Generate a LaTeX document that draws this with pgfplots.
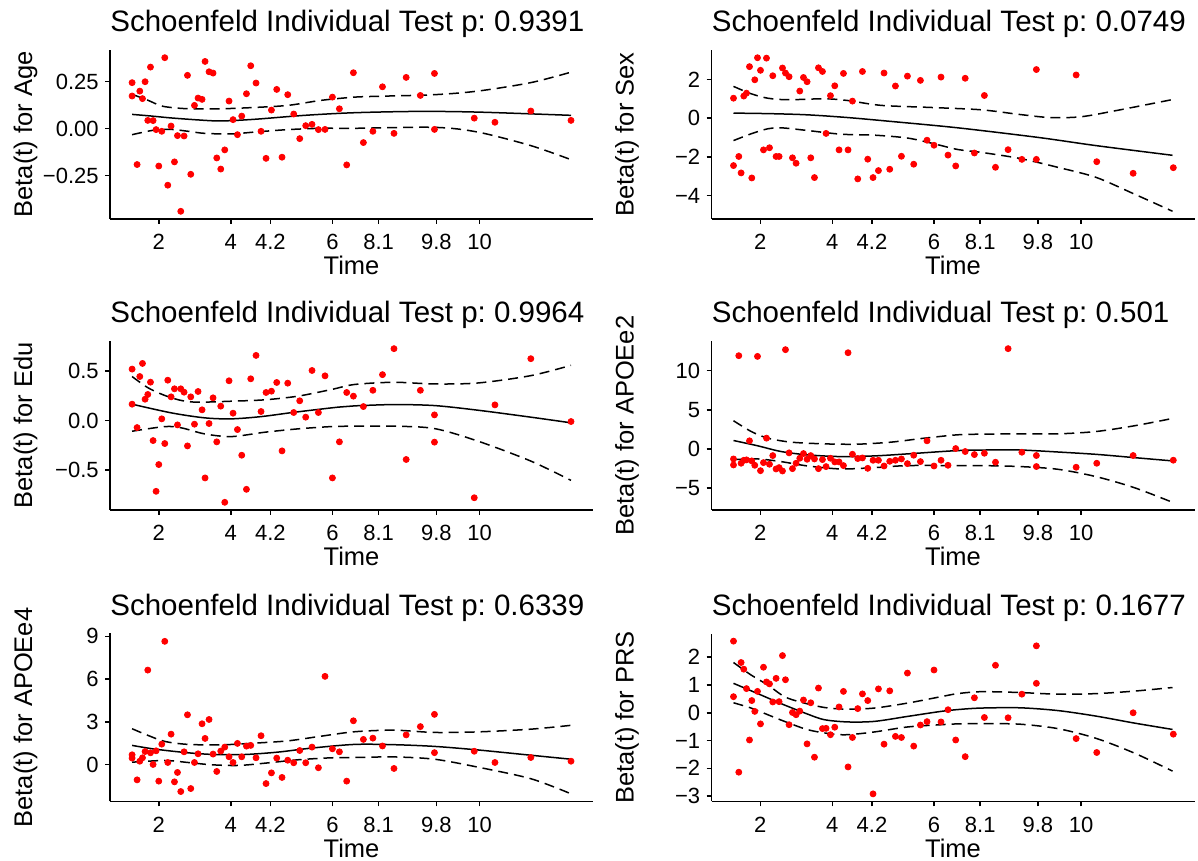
\documentclass[border=0pt]{standalone}
\usepackage{fontspec}
\setmainfont{Liberation Sans}
\usepackage{pgfplots}
\pgfplotsset{compat=1.18}
\pgfplotsset{
  zph/.style={
    scale only axis, width=241.5pt, height=84.5pt, anchor=south west,
    xmin=110.2, xmax=593.4,
    axis lines=left, axis line style={-, line width=0.75pt, black},
    tick style={black, line width=0.75pt}, tick align=outside,
    major tick length=2.5pt,
    xtick={159,231,270.7,332.7,379,436.7,480},
    xticklabels={2,4,4.2,6,8.1,9.8,10},
    xticklabel style={font=\fontsize{11}{13}\selectfont, anchor=base, yshift=-13pt},
    yticklabel style={font=\fontsize{11}{13}\selectfont, anchor=east, inner sep=0pt, xshift=-3pt},
    xlabel={Time},
    every axis x label/.style={at={(axis description cs:0.5,0)}, anchor=base, yshift=-27.8pt, font=\fontsize{12.75}{14}\selectfont},
    every axis y label/.style={at={(axis description cs:0,0.5)}, xshift=-42.25pt, rotate=90, anchor=center, font=\fontsize{12.75}{14}\selectfont},
    every axis title/.style={at={(axis description cs:0,1)}, anchor=base west, inner sep=0pt, yshift=9pt, font=\fontsize{14.75}{17}\selectfont},
  },
  pts/.style={only marks, mark=*, mark size=1.5pt, color=red, mark options={draw=red, fill=red}},
  fit/.style={black, line width=0.75pt, smooth, no marks},
  ci/.style={black, line width=0.75pt, smooth, no marks, dash pattern=on 5pt off 3pt},
}
\begin{document}
\frenchspacing
\begin{tikzpicture}
\path[use as bounding box] (0pt,0pt) rectangle (599pt,430.5pt);

% Panel 1: Age
\begin{axis}[zph, at={(55pt,321pt)}, ymin=-0.481, ymax=0.419,
  ytick={-0.25,0,0.25}, yticklabels={−0.25,0.00,0.25},
  ylabel={Beta(t) for Age}, title={Schoenfeld Individual Test p: 0.9391}]
\addplot[fit] coordinates {(132.3,.076)(150,.068)(171.7,.057)(200,.046)(221.7,.041)(255,.05)(305,.071)(355,.085)(420,.092)(480,.088)(571.4,.071)};
\addplot[pts] coordinates {(132.3,0.245)(132.3,0.174)(137.3,-0.191)(140,0.200)(142.7,0.160)(145.3,0.250)(148,0.044)(150.7,0.328)(153.3,0.043)(156.3,-0.005)(159,-0.199)(162,-0.014)(165,0.378)(168,-0.301)(171.3,0.014)(174.7,-0.177)(177.7,-0.037)(181,-0.440)(184.3,-0.039)(187.7,0.284)(191,-0.243)(194.7,0.124)(198.3,0.163)(202.3,0.156)(205.3,0.358)(209.3,0.303)(213.3,0.296)(217,-0.156)(221,-0.215)(225,-0.113)(229.3,0.147)(233.3,0.048)(237.7,-0.032)(242,0.067)(246.7,0.186)(251,0.335)(256.3,0.243)(261.3,-0.014)(266.3,-0.158)(271.7,0.099)(277,0.209)(282.3,-0.152)(288,0.181)(294,0.078)(300,-0.053)(306,0.016)(312.3,0.023)(318.7,-0.005)(325.3,-0.004)(332.7,0.168)(339.7,0.106)(347,-0.193)(353.7,0.298)(363.7,-0.074)(373.2,-0.014)(382.8,0.223)(394.3,-0.025)(406.5,0.273)(420.7,0.177)(434.8,0.294)(434.8,-0.004)(474.6,0.056)(495.3,0.034)(531.2,0.094)(571.4,0.044)};
\addplot[ci] coordinates {(132.3,.183)(148.3,.151)(163.3,.119)(188.3,.106)(221.7,.106)(255,.113)(288.3,.124)(321.7,.151)(355,.168)(382.8,.173)(434.8,.181)(478,.2)(531,.245)(571.4,.301)};
\addplot[ci] coordinates {(132.3,-.032)(155,-.007)(171.7,-.004)(188.3,-.014)(205,-.025)(231.7,-.028)(255,-.018)(288.3,-.005)(321.7,.002)(355,.002)(434.8,.007)(478,-.018)(531,-.09)(571.4,-.165)};
\end{axis}

% Panel 2: Sex
\begin{axis}[zph, at={(355.75pt,321pt)}, ymin=-5.21, ymax=3.52,
  ytick={-4,-2,0,2}, yticklabels={−4,−2,0,2},
  ylabel={Beta(t) for Sex}, title={Schoenfeld Individual Test p: 0.0749}]
\addplot[fit] coordinates {(132.2,.26)(170,.23)(206.5,.17)(246.5,.03)(289.8,-.17)(356.5,-.5)(437.5,-1.0)(495,-1.42)(571.4,-1.92)};
\addplot[pts] coordinates {(132.2,1.03)(132.2,-2.45)(137.5,-1.98)(139.8,-2.83)(142.5,1.14)(145.2,1.29)(148.2,2.66)(150.5,-3.09)(153.5,1.98)(156.2,3.12)(159.2,2.47)(162.2,-1.64)(165.2,3.10)(168.2,-1.53)(171.5,2.19)(174.8,-1.98)(177.8,-1.98)(181.2,2.59)(184.2,2.33)(187.8,2.14)(191.2,-2.05)(194.8,-2.33)(198.5,1.40)(202.2,2.10)(205.8,1.88)(209.5,-2.05)(213.2,-3.07)(217.2,2.60)(221.2,2.41)(224.8,-0.79)(229.2,1.16)(233.5,1.67)(237.8,-1.64)(242.2,2.31)(246.8,-1.64)(251.2,0.88)(256.5,-3.14)(261.2,2.41)(266.5,-2.12)(271.8,-3.07)(277.2,-2.71)(282.8,2.33)(288.5,-2.64)(294.2,1.66)(300.2,-1.97)(306.2,2.17)(312.5,-2.38)(319.2,1.95)(325.8,-1.14)(332.8,-1.40)(339.8,2.12)(346.8,-1.91)(354.5,-2.47)(364,2.06)(373.2,-1.80)(383.2,1.17)(394.3,-2.54)(406.9,-1.63)(420.7,-2.13)(435.2,2.51)(435.2,-2.13)(475,2.23)(495.6,-2.25)(532,-2.85)(572.2,-2.56)};
\addplot[ci] coordinates {(132.2,1.64)(149.8,1.26)(166.5,1.03)(186.5,.95)(223.2,1.0)(246.5,.91)(279.8,.66)(330.4,.55)(380.1,.43)(418.4,.19)(449,.03)(479.6,.07)(514,.38)(571.4,.96)};
\addplot[ci] coordinates {(132.2,-1.16)(149.8,-.81)(166.5,-.55)(179.8,-.5)(206.5,-.64)(239.8,-.83)(273.2,-.88)(306.5,-1.03)(333.2,-1.33)(356.5,-1.62)(380.1,-1.77)(418.4,-2.08)(456.6,-2.54)(494.9,-3.06)(533.1,-3.92)(571.4,-4.81)};
\end{axis}

% Panel 3: Edu
\begin{axis}[zph, at={(55pt,175.5pt)}, ymin=-0.9025, ymax=0.8025,
  ytick={-0.5,0,0.5}, yticklabels={−0.5,0.0,0.5},
  ylabel={Beta(t) for Edu}, title={Schoenfeld Individual Test p: 0.9964}]
\addplot[fit] coordinates {(132.3,.165)(171.7,.077)(205,.027)(231.7,.017)(261.7,.04)(295,.084)(338.3,.135)(355,.148)(394.3,.161)(434.8,.151)(478.4,.104)(531.2,.034)(571.4,-.023)};
\addplot[pts] coordinates {(132.3,0.519)(132.3,0.165)(137.3,-0.071)(140,0.444)(142.7,0.576)(145.3,0.215)(148,0.263)(150.7,0.387)(153.3,-0.202)(156.3,-0.714)(159,-0.444)(162,0.017)(165,-0.232)(168,0.407)(171.3,0.239)(174.7,0.320)(177.7,-0.044)(181,0.320)(184.3,0.286)(187.7,-0.256)(191,0.239)(194.7,-0.037)(198.3,0.293)(202.3,0.108)(205.3,-0.579)(209.3,-0.030)(213.3,0.229)(217,-0.215)(221,0.145)(225,-0.825)(229.3,0.401)(233.3,0.074)(237.7,-0.091)(242,-0.350)(246.7,-0.694)(251,0.421)(256.3,0.657)(261.3,0.091)(266.3,0.283)(271.7,0.296)(277,0.384)(282.3,-0.306)(288,0.377)(294,0.081)(300,0.199)(306,0.034)(312.3,0.505)(318.7,0.081)(325.3,0.451)(332.7,-0.579)(339.7,-0.215)(347,0.283)(353.7,0.246)(363.7,0.141)(373.2,0.305)(382.8,0.463)(394.3,0.725)(406.5,-0.393)(420.7,0.305)(434.8,0.057)(434.8,-0.218)(474.6,-0.779)(495.3,0.158)(531.2,0.624)(571.4,-0.010)};
\addplot[ci] coordinates {(132.3,.444)(148.3,.33)(165,.253)(181.7,.202)(198.3,.185)(231.7,.195)(265,.209)(298.3,.246)(331.7,.313)(355,.364)(394.3,.386)(434.8,.369)(478.4,.379)(531.2,.453)(571.4,.557)};
\addplot[ci] coordinates {(132.3,-.108)(165,-.061)(181.7,-.074)(205,-.135)(231.7,-.162)(265,-.118)(298.3,-.084)(331.7,-.061)(355,-.057)(394.3,-.057)(434.8,-.081)(478.4,-.208)(531.2,-.409)(571.4,-.604)};
\end{axis}

% Panel 4: APOEe2
\begin{axis}[zph, at={(355.75pt,175.5pt)}, ymin=-7.82, ymax=13.8,
  ytick={-5,0,5,10}, yticklabels={−5,0,5,10},
  ylabel={Beta(t) for APOEe2}, title={Schoenfeld Individual Test p: 0.501}]
\addplot[fit] coordinates {(132.2,1.07)(156.5,.39)(179.8,-.34)(206.5,-.77)(239.8,-.99)(273.2,-.9)(306.5,-.64)(356.5,-.22)(390,-.14)(420,-.15)(456.6,-.4)(494.9,-.7)(533.1,-1.12)(571.4,-1.54)};
\addplot[pts] coordinates {(132.2,-1.29)(132.2,-2.06)(137.5,11.92)(139.8,-1.84)(142.5,-1.46)(145.2,-1.41)(148.2,1.03)(150.5,-1.54)(153.5,-2.10)(156.2,11.83)(159.2,-2.79)(162.2,-1.76)(165.2,1.37)(168.2,-1.97)(171.5,-0.86)(174.8,-2.57)(177.8,-2.40)(181.2,-2.83)(184.2,12.69)(187.8,-0.51)(191.2,-2.53)(194.8,-1.84)(198.5,-1.20)(202.2,-0.60)(205.8,-1.33)(209.5,-0.86)(213.2,-1.29)(217.2,-2.53)(221.2,-1.37)(224.8,-2.27)(229.2,-1.20)(233.5,-1.67)(237.8,-1.67)(242.2,-2.14)(246.8,12.30)(251.2,-0.69)(256.5,-1.24)(261.2,-1.16)(266.5,-2.49)(271.8,-1.46)(277.2,-1.46)(282.8,-2.19)(288.5,-1.59)(294.2,-1.46)(300.2,-1.29)(306.2,-1.89)(312.5,-0.81)(319.2,-1.63)(325.8,1.03)(332.8,-2.19)(339.8,-1.46)(346.8,-2.10)(354.5,0.04)(364,-0.34)(373.2,-0.73)(383.2,-0.56)(394.3,-1.71)(406.9,12.82)(420.7,-0.43)(435.2,-0.85)(435.2,-2.26)(475,-2.35)(495.6,-1.84)(532,-0.85)(572.2,-1.45)};
\addplot[ci] coordinates {(132.2,3.6)(149.8,2.23)(166.5,1.37)(189.8,.86)(223.2,.64)(256.5,.6)(289.8,.86)(323.2,1.37)(356.5,1.8)(380.1,1.88)(418.4,1.92)(456.6,1.92)(494.9,2.22)(533.1,2.95)(571.4,3.89)};
\addplot[ci] coordinates {(132.2,-1.37)(156.5,-1.29)(179.8,-1.63)(206.5,-2.19)(239.8,-2.57)(273.2,-2.4)(306.5,-2.14)(356.5,-2.14)(380.1,-2.14)(418.4,-2.26)(456.6,-2.61)(494.9,-3.55)(533.1,-4.96)(571.4,-6.84)};
\end{axis}

% Panel 5: APOEe4
\begin{axis}[zph, at={(55pt,29.75pt)}, height=84pt, ymin=-2.6, ymax=9.2,
  ytick={0,3,6,9}, yticklabels={0,3,6,9},
  ylabel={Beta(t) for APOEe4}, title={Schoenfeld Individual Test p: 0.6339}]
\addplot[fit] coordinates {(132.3,1.34)(155,1.08)(188.3,.82)(215,.7)(245,.7)(278.3,.87)(311.7,1.15)(355,1.41)(394.3,1.39)(434.8,1.27)(478.4,1.02)(531.2,.65)(571.4,.37)};
\addplot[pts] coordinates {(132.3,0.68)(132.3,0.45)(137.3,-1.08)(140,0.23)(142.7,0.47)(145.3,0.91)(148,6.63)(150.7,0.82)(153.3,0.0)(156.3,0.96)(159,-1.17)(162,1.43)(165,8.65)(168,0.14)(171.3,2.13)(174.7,-1.22)(177.7,-0.56)(181,-1.90)(184.3,0.89)(187.7,3.49)(191,-1.69)(194.7,0.14)(198.3,0.75)(202.3,2.86)(205.3,1.83)(209.3,3.16)(213.3,0.73)(217,-0.49)(221,0.94)(225,1.22)(229.3,0.54)(233.3,0.14)(237.7,1.48)(242,0.54)(246.7,1.29)(251,1.34)(256.3,0.47)(261.3,2.02)(266.3,-1.34)(271.7,-0.59)(277,0.45)(282.3,-0.91)(288,0.30)(294,0.12)(300,0.98)(306,0.12)(312.3,1.22)(318.7,-0.23)(325.3,6.19)(332.7,1.10)(339.7,0.89)(347,-1.17)(353.7,3.07)(363.7,1.76)(373.2,1.85)(382.8,1.30)(394.3,-0.28)(406.5,2.08)(420.7,2.66)(434.8,3.52)(434.8,0.83)(474.6,0.93)(495.3,0.14)(531.2,0.49)(571.4,0.23)};
\addplot[ci] coordinates {(132.3,2.51)(148.3,2.04)(165,1.62)(188.3,1.41)(221.7,1.38)(255,1.5)(288.3,1.66)(321.7,1.99)(355,2.3)(394.3,2.41)(434.8,2.25)(478.4,2.29)(531.2,2.48)(571.4,2.75)};
\addplot[ci] coordinates {(132.3,.16)(165,.28)(188.3,.14)(211.7,-.02)(238.3,-.07)(265,.09)(298.3,.33)(331.7,.47)(355,.49)(394.3,.53)(434.8,.37)(478.4,-.19)(531.2,-1.0)(571.4,-2.06)};
\end{axis}

% Panel 6: PRS
\begin{axis}[zph, at={(355.75pt,29.75pt)}, height=84pt, ymin=-3.195, ymax=2.855,
  ytick={-3,-2,-1,0,1,2}, yticklabels={−3,−2,−1,0,1,2},
  ylabel={Beta(t) for PRS}, title={Schoenfeld Individual Test p: 0.1677}]
\addplot[fit] coordinates {(132.2,1.06)(156.5,.69)(179.8,.33)(206.5,-.05)(223.2,-.25)(246.5,-.33)(273.2,-.31)(306.5,-.13)(339.8,.05)(358,.12)(380.1,.17)(418.4,.18)(456.6,.08)(494.9,-.12)(533.1,-.37)(571.4,-.6)};
\addplot[pts] coordinates {(132.2,2.58)(132.2,0.58)(137.5,-2.14)(139.8,1.81)(142.5,1.57)(145.2,0.87)(148.2,-0.98)(150.5,0.44)(153.5,0.05)(156.2,0.77)(159.2,-0.40)(162.2,1.64)(165.2,1.11)(168.2,1.04)(171.5,0.39)(174.8,1.24)(177.8,0.40)(181.2,2.06)(184.2,1.19)(187.8,-0.43)(191.2,0.01)(194.8,-0.07)(198.5,0.06)(202.2,0.46)(205.8,-1.12)(209.5,0.36)(213.2,-1.60)(217.2,0.89)(221.2,-0.57)(224.8,-0.56)(229.2,-0.79)(233.5,-0.52)(237.8,0.21)(242.2,0.77)(246.8,-1.95)(251.2,-0.89)(256.5,0.15)(261.2,0.68)(266.5,0.44)(271.8,-2.92)(277.2,0.86)(282.8,-1.13)(288.5,0.79)(294.2,-0.85)(300.2,-0.89)(306.2,1.43)(312.5,-1.20)(319.2,-0.44)(325.8,-0.32)(332.8,1.54)(339.8,-0.33)(346.8,0.11)(354.5,-0.98)(364,-1.58)(373.2,0.54)(383.2,-0.17)(394.3,1.71)(406.9,-0.18)(420.7,0.67)(435.2,2.41)(435.2,1.06)(475,-0.93)(495.6,-1.43)(532,0.0)(572.2,-0.77)};
\addplot[ci] coordinates {(132.2,1.81)(149.8,1.36)(166.5,1.0)(183.2,.58)(199.8,.38)(223.2,.19)(246.5,.13)(273.2,.17)(306.5,.35)(339.8,.58)(356.5,.69)(380.1,.76)(418.4,.73)(456.6,.67)(494.9,.69)(533.1,.78)(571.4,.91)};
\addplot[ci] coordinates {(132.2,.36)(149.8,.17)(166.5,-.07)(183.2,-.31)(206.5,-.61)(229.8,-.76)(246.5,-.79)(273.2,-.69)(306.5,-.51)(339.8,-.43)(356.5,-.4)(380.1,-.39)(418.4,-.41)(456.6,-.57)(494.9,-.92)(533.1,-1.45)(571.4,-2.1)};
\end{axis}
\end{tikzpicture}
\end{document}
